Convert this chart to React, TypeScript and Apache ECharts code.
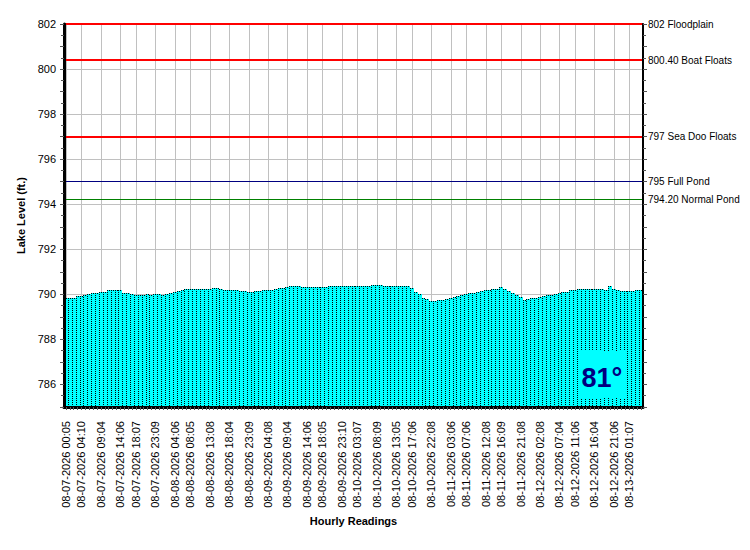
import React, { useEffect, useRef } from "react";
import * as echarts from "echarts";

// Hourly lake level readings (ft.)
const levels: number[] = [
  789.85, 789.85, 789.86,
  789.92, 789.94, 789.96,
  790.03, 790.05, 790.07,
  790.1, 790.12,
  790.19, 790.2, 790.21, 790.2,
  790.07, 790.08, 790.03,
  789.99, 789.98, 789.99, 790.0, 789.99, 790.0, 790.0, 789.99, 790.0,
  790.06, 790.1, 790.14,
  790.2, 790.22, 790.23, 790.23, 790.24, 790.24, 790.25, 790.25, 790.26,
  790.3,
  790.22, 790.21, 790.21, 790.2, 790.19,
  790.14, 790.13, 790.12, 790.12, 790.13,
  790.16, 790.18, 790.2, 790.21, 790.23,
  790.27, 790.3,
  790.34, 790.35, 790.36, 790.35,
  790.33, 790.32, 790.34, 790.33, 790.33, 790.34, 790.33, 790.35,
  790.38, 790.39, 790.38,
  790.37, 790.36, 790.37, 790.38, 790.37, 790.36, 790.37,
  790.4, 790.41, 790.4,
  790.37, 790.36, 790.36, 790.37, 790.36, 790.36, 790.35,
  790.28,
  790.1, 790.02,
  789.86, 789.8,
  789.72, 789.7,
  789.73, 789.75, 789.78,
  789.84, 789.87,
  789.93, 789.97, 790.0,
  790.05, 790.08, 790.12,
  790.16, 790.18,
  790.21, 790.23, 790.25,
  790.32,
  790.22, 790.15,
  790.06, 789.97, 789.88,
  789.75,
  789.8, 789.83, 789.85,
  789.88, 789.92, 789.95, 789.98,
  790.03, 790.06, 790.09, 790.12,
  790.19, 790.21, 790.23, 790.24, 790.25, 790.25, 790.24, 790.25, 790.24, 790.21,
  790.38,
  790.22, 790.18, 790.16, 790.15, 790.17, 790.15, 790.19, 790.21,
];

// Labelled readings: position in the series and their timestamp
const tickIndex: number[] = [
  0, 4, 9, 14, 18, 23, 28, 32, 37, 42, 47, 52, 57, 62, 66, 71, 75, 80, 85, 89,
  94, 99, 103, 108, 112, 117, 122, 127, 131, 136, 141, 145,
];
const tickLabels: string[] = [
  "08-07-2026 00:05", "08-07-2026 04:10", "08-07-2026 09:04", "08-07-2026 14:06",
  "08-07-2026 18:07", "08-07-2026 23:09", "08-08-2026 04:06", "08-08-2026 08:05",
  "08-08-2026 13:08", "08-08-2026 18:04", "08-08-2026 23:09", "08-09-2026 04:08",
  "08-09-2026 09:04", "08-09-2026 14:06", "08-09-2026 18:05", "08-09-2026 23:10",
  "08-10-2026 03:07", "08-10-2026 08:09", "08-10-2026 13:05", "08-10-2026 17:06",
  "08-10-2026 22:08", "08-11-2026 03:06", "08-11-2026 07:06", "08-11-2026 12:08",
  "08-11-2026 16:09", "08-11-2026 21:08", "08-12-2026 02:08", "08-12-2026 07:04",
  "08-12-2026 11:06", "08-12-2026 16:04", "08-12-2026 21:06", "08-13-2026 01:07",
];

// Reference levels on the right side
const refValues: number[] = [802, 800.4, 797, 795, 794.2];
const refNames: string[] = [
  "802 Floodplain",
  "800.40 Boat Floats",
  "797 Sea Doo Floats",
  "795 Full Pond",
  "794.20 Normal Pond",
];
const refColors: string[] = ["#ff0000", "#ff0000", "#ff0000", "#000080", "#008000"];
const refWidths: number[] = [2, 2, 2, 1, 1];

// Y axis labelled values (horizontal grid lines)
const yGridValues: number[] = [786, 788, 790, 792, 794, 796, 798, 800];
const yMin = 785;
const yMax = 802;

const temperature = "81°";

const FONT = "'Liberation Sans', Arial, sans-serif";

export default function App() {
  const ref = useRef<HTMLDivElement>(null);

  useEffect(() => {
    if (!ref.current) return;
    const chart = echarts.init(ref.current, undefined, { renderer: "svg" });

    const tickSet = new Set(tickIndex);
    const categories = levels.map((_, i) => {
      const k = tickIndex.indexOf(i);
      return k >= 0 ? tickLabels[k] : "#" + i;
    });
    const empty = levels.map(() => null);
    const barData = levels.map((v, i) => [i, v]);

    const GRID = "#c0c0c0";

    // Each column: grid segments above the bar, then the cyan bar with dotted edges
    const renderBar = (params: any, api: any) => {
      const idx = api.value(0);
      const val = api.value(1);
      const topPt = api.coord([idx, val]);
      const basePt = api.coord([idx, yMin]);
      const gridTop = Math.round(api.coord([idx, yMax])[1]);
      const w = api.size([1, 0])[0];
      const left = Math.round(topPt[0] - w / 2);
      const right = Math.round(topPt[0] + w / 2);
      const top = Math.round(topPt[1]);
      const bottom = Math.round(basePt[1]);
      const children: any[] = [];
      yGridValues.forEach((g) => {
        const gy = Math.round(api.coord([idx, g])[1]) + 0.5;
        if (gy < top) {
          children.push({
            type: "line",
            shape: { x1: left, y1: gy, x2: right, y2: gy },
            style: { stroke: GRID, lineWidth: 1 },
          });
        }
      });
      if (tickSet.has(idx)) {
        const cx = Math.round(topPt[0]) + 0.5;
        children.push({
          type: "line",
          shape: { x1: cx, y1: gridTop, x2: cx, y2: top },
          style: { stroke: GRID, lineWidth: 1 },
        });
      }
      children.push(
        {
          type: "rect",
          shape: { x: left, y: top, width: right - left, height: bottom - top },
          style: { fill: "#00ffff" },
        },
        {
          type: "line",
          shape: { x1: left + 0.5, y1: top, x2: left + 0.5, y2: bottom },
          style: { stroke: "#000", lineWidth: 1, lineDash: [1, 1] },
        },
        {
          type: "line",
          shape: { x1: left, y1: top + 0.5, x2: right, y2: top + 0.5 },
          style: { stroke: "#000", lineWidth: 1, lineDash: [1, 1] },
        }
      );
      return { type: "group", children };
    };

    chart.setOption({
      animation: false,
      backgroundColor: "#ffffff",
      textStyle: { fontFamily: FONT },
      grid: { left: 64, right: 107, top: 24, bottom: 143, containLabel: false },
      xAxis: {
        type: "category",
        data: categories,
        boundaryGap: true,
        name: "Hourly Readings",
        nameLocation: "middle",
        nameGap: 108,
        nameTextStyle: { fontWeight: "bold", fontSize: 11, color: "#000", fontFamily: FONT },
        axisLine: { show: true, lineStyle: { color: "#000", width: 3 } },
        axisTick: { show: true, interval: 0, alignWithLabel: true, length: 3, lineStyle: { color: "#555" } },
        axisLabel: {
          rotate: 90,
          interval: (index: number) => tickSet.has(index),
          fontSize: 11,
          color: "#000",
          margin: 14,
          fontFamily: FONT,
        },
        splitLine: { show: false },
        z: 10,
      },
      yAxis: [
        {
          type: "value",
          min: yMin,
          max: yMax,
          interval: 1,
          position: "left",
          name: "Lake Level (ft.)",
          nameLocation: "middle",
          nameRotate: 90,
          nameGap: 24,
          nameTextStyle: { fontWeight: "bold", fontSize: 11, color: "#000", fontFamily: FONT },
          axisLine: { show: true, lineStyle: { color: "#000", width: 3 } },
          axisTick: { show: true, length: 4, lineStyle: { color: "#555" } },
          minorTick: { show: true, splitNumber: 2, length: 3, lineStyle: { color: "#555" } },
          axisLabel: {
            formatter: (v: number) => (Math.round(v) % 2 === 0 ? String(Math.round(v)) : ""),
            fontSize: 11,
            color: "#000",
            margin: 8,
            fontFamily: FONT,
          },
          splitLine: { show: false },
          z: 10,
        },
        {
          type: "value",
          min: yMin,
          max: yMax,
          interval: 1,
          position: "right",
          axisLine: { show: true, lineStyle: { color: "#000", width: 2 } },
          axisTick: { show: true, length: 4, lineStyle: { color: "#555" } },
          minorTick: { show: true, splitNumber: 2, length: 3, lineStyle: { color: "#555" } },
          axisLabel: { show: false },
          splitLine: { show: false },
          z: 10,
        },
      ],
      series: [
        {
          name: "Lake Level",
          type: "custom",
          data: barData,
          encode: { x: 0, y: 1 },
          z: 3,
          silent: true,
          clip: true,
          renderItem: renderBar,
        },
        {
          name: "refs",
          type: "line",
          data: empty,
          z: 4,
          silent: true,
          symbol: "none",
          markLine: {
            silent: true,
            symbol: "none",
            animation: false,
            z: 6,
            emphasis: { disabled: true },
            data: refValues.map((v, k) => ({
              yAxis: v,
              lineStyle: { color: refColors[k], width: refWidths[k], type: "solid", opacity: 1 },
              label: {
                show: true,
                position: "end",
                distance: 5,
                formatter: refNames[k],
                color: "#000",
                fontSize: 10,
                fontFamily: FONT,
                overflow: "none",
              },
            })),
          },
        },
      ],
      graphic: [
        {
          type: "rect",
          left: 580,
          top: 351,
          shape: { width: 46, height: 47 },
          style: { fill: "#00ffff" },
          z: 100,
        },
        {
          type: "text",
          x: 602,
          y: 378,
          style: {
            text: temperature,
            fill: "#000080",
            font: "bold 27px " + FONT,
            textAlign: "center",
            textVerticalAlign: "middle",
          },
          z: 101,
        },
      ],
    });

    return () => chart.dispose();
  }, []);

  return <div ref={ref} style={{ width: 750, height: 550, margin: -8 }} />;
}
